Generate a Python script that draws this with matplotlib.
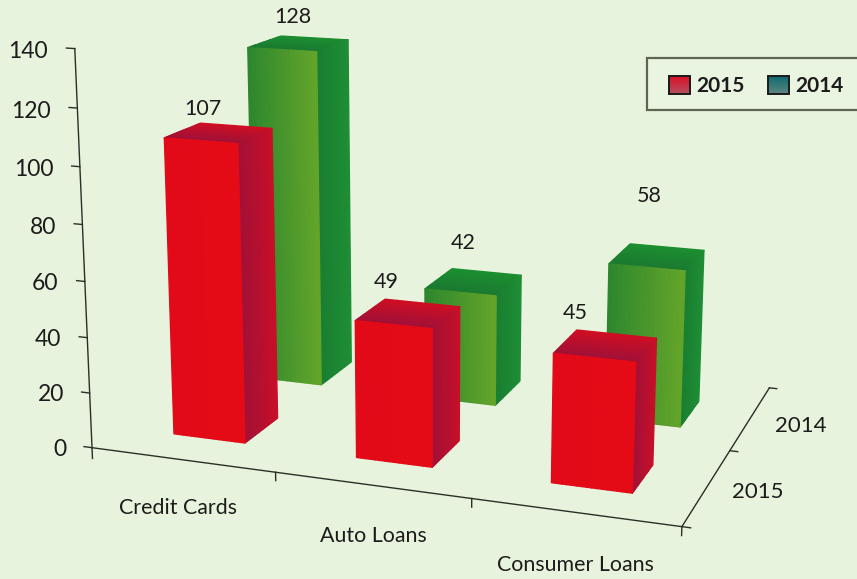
"""3D grouped bars: loan balances by product, 2015 against 2014."""

import matplotlib

matplotlib.use("Agg")
import matplotlib.pyplot as plt
import numpy as np
from matplotlib.colors import to_rgb
from matplotlib.patches import Rectangle
from mpl_toolkits.mplot3d import proj3d
from mpl_toolkits.mplot3d.art3d import Poly3DCollection

categories = ["Credit Cards", "Auto Loans", "Consumer Loans"]
series = ["2015", "2014"]
values_2015 = [107, 49, 45]
values_2014 = [128, 42, 58]
value_ticks = [0, 20, 40, 60, 80, 100, 120, 140]

W, H = 857, 579
BG = "#E7F3DC"
FONT = "Lato"
INK = "#1c1c1c"

# camera and box
ELEV, AZIM, ROLL, FOCAL = 14.1185, -70.4277, -0.1128, 0.4717
BOX = (np.exp(0.4026), np.exp(0.0362), 1.0)
SIDE, CX, CY = 794.1441, 435.1967, 240.5914

# bar footprint inside each category / depth slot
BAR_X0, BAR_W = 0.2913, 0.3961
DEPTH = {"2015": (0.3084, 0.6911), "2014": (1.2482, 1.6647)}

# screen positions of the value labels (px from top-left)
label_xy = {
    "2015": [(203, 109), (386, 282), (575, 313)],
    "2014": [(293, 17), (463, 243), (649, 196)],
}
category_x = [0.47, 1.505, 2.505]


def strips(p00, p10, p01, p11, c0, c1, n=16):
    """Quad split into n strips along u, colour running from c0 to c1."""
    p00, p10, p01, p11 = (np.array(q, float) for q in (p00, p10, p01, p11))
    c0, c1 = np.array(to_rgb(c0)), np.array(to_rgb(c1))
    polys, colors = [], []
    for i in range(n):
        a, b = i / n, (i + 1) / n
        polys.append([p00 + (p10 - p00) * a, p00 + (p10 - p00) * b,
                      p01 + (p11 - p01) * b, p01 + (p11 - p01) * a])
        colors.append(c0 + (c1 - c0) * (a + b) / 2)
    return polys, colors


def add_face(ax, quad, c0, c1, order):
    polys, colors = strips(*quad, c0, c1)
    col = Poly3DCollection(polys, facecolors=colors, edgecolors=colors, linewidths=1.0)
    col.set_zorder(order)
    ax.add_collection3d(col, autolim=False)


def add_bar(ax, x0, x1, y0, y1, top, look, order):
    # top and side faces both shade from the front edge to the back edge
    add_face(ax, ((x0, y0, top), (x0, y1, top), (x1, y0, top), (x1, y1, top)),
             look["top_front"], look["top_back"], order)
    add_face(ax, ((x1, y0, top), (x1, y1, top), (x1, y0, 0), (x1, y1, 0)),
             look["side_front"], look["side_back"], order + 0.1)
    add_face(ax, ((x0, y0, 0), (x1, y0, 0), (x0, y0, top), (x1, y0, top)),
             look["front_l"], look["front_r"], order + 0.2)


red = {"top_front": "#A01038", "top_back": "#D00E22", "side_front": "#A31036",
       "side_back": "#C90F28", "front_l": "#E20A18", "front_r": "#E50B16"}
green = {"top_front": "#1A7A30", "top_back": "#1C8F30", "side_front": "#1A7E31",
         "side_back": "#1E8F35", "front_l": "#2C862E", "front_r": "#64A52A"}

fig = plt.figure(figsize=(W / 100, H / 100), dpi=100, facecolor=BG)
ax = fig.add_axes(
    [(CX - SIDE / 2) / W, (H - CY - SIDE / 2) / H, SIDE / W, SIDE / H],
    projection="3d",
)
ax.set_facecolor("none")
ax.set_axis_off()
ax.computed_zorder = False
ax.autoscale(False)
ax.view_init(ELEV, AZIM, ROLL)
ax.set_proj_type("persp", focal_length=FOCAL)
ax.set_box_aspect(BOX, zoom=1)
ax.set_xlim(0, 3, view_margin=0)
ax.set_ylim(0, 2, view_margin=0)
ax.set_zlim(0, 140, view_margin=0)
ax.apply_aspect()

# back row first, then the front row
for i, v in enumerate(values_2014):
    y0, y1 = DEPTH["2014"]
    add_bar(ax, i + BAR_X0, i + BAR_X0 + BAR_W, y0, y1, v, green, 2 + i)
for i, v in enumerate(values_2015):
    y0, y1 = DEPTH["2015"]
    add_bar(ax, i + BAR_X0, i + BAR_X0 + BAR_W, y0, y1, v, red, 6 + i)

# axes lines and ticks
line = dict(color="#2b2f28", lw=1.0, zorder=1)
ax.plot([0, 0], [0, 0], [-4, 140], **line)
ax.plot([0, 3], [0, 0], [0, 0], **line)
ax.plot([3, 3], [0, 2], [0, 0], **line)
for v in value_ticks:
    ax.plot([-0.045, 0], [0, 0], [v, v], **line)
for i in range(1, 4):
    ax.plot([i, i], [0, 0], [-3, 0], **line)
for d in range(0, 3):
    ax.plot([3, 3.04], [d, d], [0, 0], **line)

# flat overlay in pixel coordinates for all the text and the key
ov = fig.add_axes([0, 0, 1, 1], facecolor="none")
ov.set_xlim(0, W)
ov.set_ylim(H, 0)
ov.axis("off")


def to_px(x, y, z):
    """Pixel position (from top-left) of a point in the 3D axes."""
    px, py, _ = proj3d.proj_transform(x, y, z, ax.get_proj())
    sx, sy = ax.transData.transform((px, py))
    return sx, H - sy


txt = dict(family=FONT, color=INK, ha="center", va="center")
for v in value_ticks:
    sx, sy = to_px(-0.145, 0, v)
    ov.text(sx, sy + 5, str(v), family=FONT, color=INK, ha="right", va="center", fontsize=16.5)
for x, name in zip(category_x, categories):
    sx, sy = to_px(x, 0, -18)
    ov.text(sx, sy, name, fontsize=15.4, **txt)
for (dx, dy), d, name in zip([(-2, -1), (2, 3)], range(2), series):
    sx, sy = to_px(3.25, d + 0.5, 0)
    ov.text(sx + dx, sy + dy, name, fontsize=16, **txt)

for name, vals in zip(series, (values_2015, values_2014)):
    for (x, y), v in zip(label_xy[name], vals):
        ov.text(x, y, str(v), fontsize=15.5, **txt)

ov.add_patch(Rectangle((647, 58), 230, 52, facecolor="#EAF5E1", edgecolor="#5c6652", lw=1.6))
key = [(669, "2015", "#DA1028", "#B6505F"), (768, "2014", "#0E6A70", "#5E8682")]
for x, name, top, bot in key:
    ramp = np.linspace(to_rgb(top), to_rgb(bot), 32)[:, None, :]
    ov.imshow(ramp, extent=(x, x + 21, 94, 76), aspect="auto", zorder=3)
    ov.add_patch(Rectangle((x, 76), 21, 18, fill=False, edgecolor="#1a1a1a", lw=1.4, zorder=4))
    ov.text(x + 27, 85.5, name, ha="left", va="center", fontsize=15, fontweight="bold",
            family=FONT, color=INK)
ov.set_xlim(0, W)
ov.set_ylim(H, 0)

fig.savefig("out.png", dpi=100, facecolor=BG)
